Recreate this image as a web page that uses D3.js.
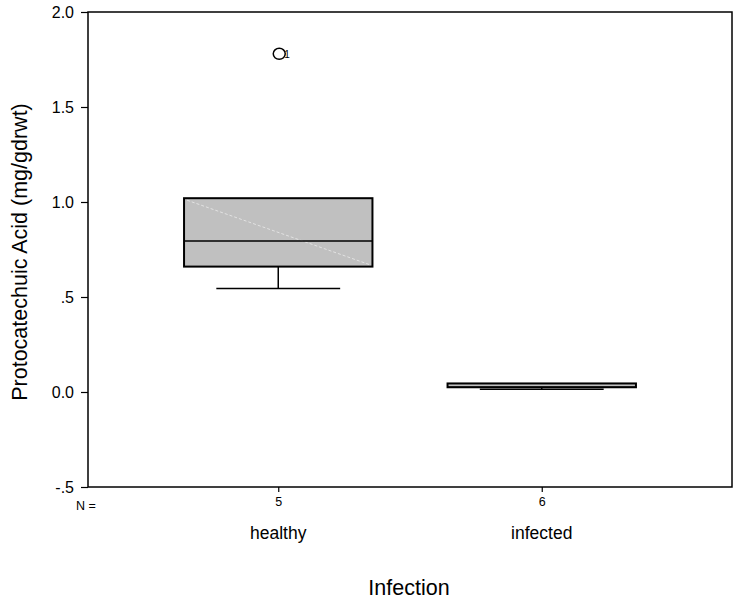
<!DOCTYPE html>
<html>
<head>
<meta charset="utf-8">
<script src="https://cdn.jsdelivr.net/npm/d3@7"></script>
<style>
  html, body { margin: 0; padding: 0; background: #fff; }
  svg text { font-family: "Liberation Sans", Arial, sans-serif; fill: #000; }
</style>
</head>
<body>
<svg id="chart" width="736" height="602"></svg>
<script>
// Protocatechuic acid content by infection status
const groups = ["healthy", "infected"];
const counts = [5, 6];
const lowerWhisker = [0.545, 0.015];
const q1 = [0.66, 0.025];
const medians = [0.795, 0.025];
const q3 = [1.02, 0.045];
const upperWhisker = [1.02, 0.045];
const outliers = [[{ value: 1.78, label: "1" }], []];
const yTicks = [-0.5, 0, 0.5, 1.0, 1.5, 2.0];
const yTickLabels = ["-.5", "0.0", ".5", "1.0", "1.5", "2.0"];

const svg = d3.select("#chart");
const plot = { left: 88, right: 732, top: 12, bottom: 487 };

const y = d3.scaleLinear().domain([-0.5, 2.0]).range([plot.bottom, plot.top]);
const x = d3.scalePoint().domain(groups).range([plot.left, plot.right]).padding(0.722);
const step = x.step();
const boxW = step * 0.715;
const capW = step * 0.47;

// frame
svg.append("rect")
  .attr("x", plot.left).attr("y", plot.top)
  .attr("width", plot.right - plot.left).attr("height", plot.bottom - plot.top)
  .attr("fill", "none").attr("stroke", "#000").attr("stroke-width", 1.5);

// y axis
const yAxis = d3.axisLeft(y).tickValues(yTicks)
  .tickFormat((d, i) => yTickLabels[i]).tickSize(7).tickPadding(7);
const gy = svg.append("g").attr("transform", `translate(${plot.left},0)`).call(yAxis);
gy.attr("font-size", 16).attr("font-family", null);
gy.select(".domain").remove();
gy.selectAll(".tick line").attr("stroke", "#000").attr("stroke-width", 1.2);
gy.selectAll(".tick text").attr("fill", "#000");

// x axis ticks with group counts
const xAxis = d3.axisBottom(x).tickSize(5).tickPadding(5)
  .tickFormat((d, i) => counts[i]);
const gx = svg.append("g").attr("transform", `translate(0,${plot.bottom})`).call(xAxis);
gx.attr("font-size", 12.5).attr("font-family", null);
gx.select(".domain").remove();
gx.selectAll(".tick line").attr("stroke", "#000").attr("stroke-width", 1.2);
gx.selectAll(".tick text").attr("fill", "#000");

svg.append("text").attr("x", 76).attr("y", 510)
  .style("font-size", "12.5px").text("N =");

// category labels
svg.selectAll(".cat").data(groups).join("text")
  .attr("class", "cat")
  .attr("x", d => x(d)).attr("y", 539)
  .attr("text-anchor", "middle").style("font-size", "17.5px")
  .text(d => d);

// boxes
groups.forEach((g, i) => {
  const cx = x(g);
  const grp = svg.append("g");
  // lower whisker
  grp.append("line").attr("x1", cx).attr("x2", cx)
    .attr("y1", y(q1[i])).attr("y2", y(lowerWhisker[i]))
    .attr("stroke", "#000").attr("stroke-width", 1.5);
  grp.append("line").attr("x1", cx - capW / 2).attr("x2", cx + capW / 2)
    .attr("y1", y(lowerWhisker[i])).attr("y2", y(lowerWhisker[i]))
    .attr("stroke", "#000").attr("stroke-width", 1.5);
  // upper whisker
  grp.append("line").attr("x1", cx).attr("x2", cx)
    .attr("y1", y(q3[i])).attr("y2", y(upperWhisker[i]))
    .attr("stroke", "#000").attr("stroke-width", 1.5);
  // box
  grp.append("rect")
    .attr("x", cx - boxW / 2).attr("y", y(q3[i]))
    .attr("width", boxW).attr("height", y(q1[i]) - y(q3[i]))
    .attr("fill", "#c0c0c0").attr("stroke", "#000").attr("stroke-width", 2);
  if (i === 0) {
    grp.append("line")
      .attr("x1", cx - boxW / 2 + 3).attr("y1", y(q3[i]) + 2)
      .attr("x2", cx + boxW / 2 - 3).attr("y2", y(q1[i]) - 2)
      .attr("stroke", "#e2e2e2").attr("stroke-width", 1)
      .attr("stroke-dasharray", "3,2");
  }
  // median
  grp.append("line").attr("x1", cx - boxW / 2).attr("x2", cx + boxW / 2)
    .attr("y1", y(medians[i])).attr("y2", y(medians[i]))
    .attr("stroke", "#000").attr("stroke-width", 1.5);
  // outliers
  outliers[i].forEach(o => {
    grp.append("ellipse").attr("cx", cx + 1).attr("cy", y(o.value))
      .attr("rx", 6).attr("ry", 5.5)
      .attr("fill", "none").attr("stroke", "#000").attr("stroke-width", 1.5);
    grp.append("text").attr("x", cx + 6).attr("y", y(o.value) + 4)
      .style("font-size", "10px").text(o.label);
  });
});

// axis titles
svg.append("text").attr("x", 409).attr("y", 595)
  .attr("text-anchor", "middle").style("font-size", "21.5px").text("Infection");
svg.append("text")
  .attr("transform", "translate(27,252) rotate(-90)")
  .attr("text-anchor", "middle").style("font-size", "21.5px")
  .text("Protocatechuic Acid (mg/gdrwt)");
</script>
</body>
</html>
